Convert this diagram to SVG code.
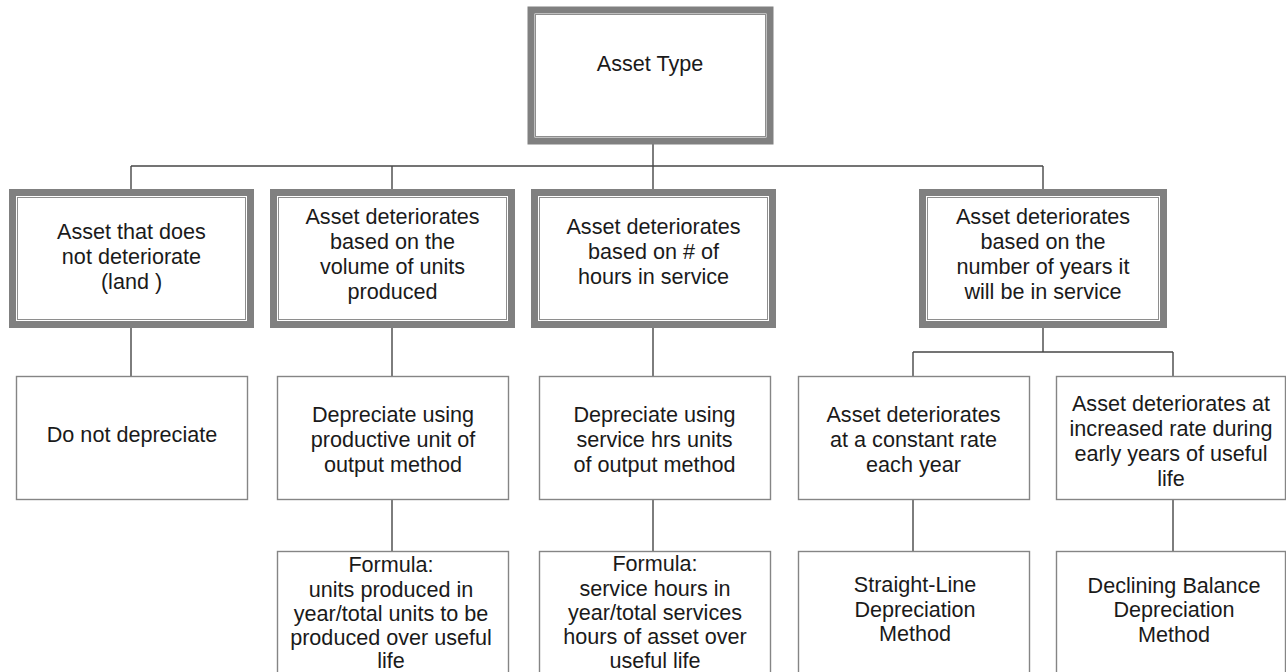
<svg xmlns="http://www.w3.org/2000/svg" width="1286" height="672" viewBox="0 0 1286 672">
<style>
.thick{fill:#fff;stroke:#808080;stroke-width:7}
.inner{fill:none;stroke:#8e8e8e;stroke-width:1}
.thin{fill:#fff;stroke:#858585;stroke-width:1.4}
.t{font-family:"Liberation Sans",Arial,sans-serif;font-size:21.6px;fill:#1a1a1a;text-anchor:middle}
.c{fill:none;stroke:#474747;stroke-width:1.4}
</style>
<rect width="1286" height="672" fill="#fff"/>
<g id="connectors">
<path class="c" d="M653 144V166M131 166H1043M131 166V189M392 166V189M653 166V189M1043 166V189"/>
<path class="c" d="M131 328V376M392 328V376M653 328V376M1043 328V352M913 352H1173M913 352V376M1173 352V376"/>
<path class="c" d="M392 499V551M653 499V551M913 499V551M1173 499V551"/>
</g>
<g id="asset-type">
<rect class="thick" x="531" y="10" width="239" height="131" stroke-width="6"/>
<rect class="inner" x="535.5" y="14.5" width="230" height="122"/>
<text class="t" x="650" y="71">Asset Type</text>
</g>
<g id="no-deteriorate">
<rect class="thick" x="12.5" y="192.5" width="238" height="132"/>
<rect class="inner" x="17.5" y="197.5" width="228" height="122"/>
<text class="t" x="131.5" y="239">Asset that does</text>
<text class="t" x="131.5" y="264">not deteriorate</text>
<text class="t" x="131.5" y="289">(land )</text>
</g>
<g id="volume">
<rect class="thick" x="273.5" y="192.5" width="238" height="132"/>
<rect class="inner" x="278.5" y="197.5" width="228" height="122"/>
<text class="t" x="392.5" y="224">Asset deteriorates</text>
<text class="t" x="392.5" y="249">based on the</text>
<text class="t" x="392.5" y="274">volume of units</text>
<text class="t" x="392.5" y="299">produced</text>
</g>
<g id="hours">
<rect class="thick" x="534.5" y="192.5" width="238" height="132"/>
<rect class="inner" x="539.5" y="197.5" width="228" height="122"/>
<text class="t" x="653.5" y="234">Asset deteriorates</text>
<text class="t" x="653.5" y="259">based on # of</text>
<text class="t" x="653.5" y="284">hours in service</text>
</g>
<g id="years">
<rect class="thick" x="922.5" y="192.5" width="241" height="132"/>
<rect class="inner" x="927.5" y="197.5" width="231" height="122"/>
<text class="t" x="1043" y="224">Asset deteriorates</text>
<text class="t" x="1043" y="249">based on the</text>
<text class="t" x="1043" y="274">number of years it</text>
<text class="t" x="1043" y="299">will be in service</text>
</g>
<g id="do-not">
<rect class="thin" x="16.5" y="376.5" width="231" height="123"/>
<text class="t" x="132" y="442">Do not depreciate</text>
</g>
<g id="productive">
<rect class="thin" x="277.5" y="376.5" width="231" height="123"/>
<text class="t" x="393" y="422">Depreciate using</text>
<text class="t" x="393" y="447">productive unit of</text>
<text class="t" x="393" y="472">output method</text>
</g>
<g id="service-hrs">
<rect class="thin" x="539.5" y="376.5" width="231" height="123"/>
<text class="t" x="654.5" y="422">Depreciate using</text>
<text class="t" x="654.5" y="447">service hrs units</text>
<text class="t" x="654.5" y="472">of output method</text>
</g>
<g id="constant">
<rect class="thin" x="798.5" y="376.5" width="231" height="123"/>
<text class="t" x="913.5" y="422">Asset deteriorates</text>
<text class="t" x="913.5" y="447">at a constant rate</text>
<text class="t" x="913.5" y="472">each year</text>
</g>
<g id="increased">
<rect class="thin" x="1056.5" y="376.5" width="229" height="123"/>
<text class="t" x="1171" y="411">Asset deteriorates at</text>
<text class="t" x="1171" y="436">increased rate during</text>
<text class="t" x="1171" y="461">early years of useful</text>
<text class="t" x="1171" y="486">life</text>
</g>
<g id="formula-units">
<rect class="thin" x="277.5" y="551.5" width="231" height="135"/>
<text class="t" x="391" y="572">Formula:</text>
<text class="t" x="391" y="597">units produced in</text>
<text class="t" x="391" y="621">year/total units to be</text>
<text class="t" x="391" y="645">produced over useful</text>
<text class="t" x="391" y="668">life</text>
</g>
<g id="formula-hours">
<rect class="thin" x="539.5" y="551.5" width="231" height="135"/>
<text class="t" x="655" y="571">Formula:</text>
<text class="t" x="655" y="596">service hours in</text>
<text class="t" x="655" y="620">year/total services</text>
<text class="t" x="655" y="644">hours of asset over</text>
<text class="t" x="655" y="668">useful life</text>
</g>
<g id="straight-line">
<rect class="thin" x="798.5" y="551.5" width="231" height="135"/>
<text class="t" x="915" y="592">Straight-Line</text>
<text class="t" x="915" y="617">Depreciation</text>
<text class="t" x="915" y="641">Method</text>
</g>
<g id="declining">
<rect class="thin" x="1056.5" y="551.5" width="229" height="135"/>
<text class="t" x="1174" y="593">Declining Balance</text>
<text class="t" x="1174" y="617">Depreciation</text>
<text class="t" x="1174" y="642">Method</text>
</g>
</svg>
